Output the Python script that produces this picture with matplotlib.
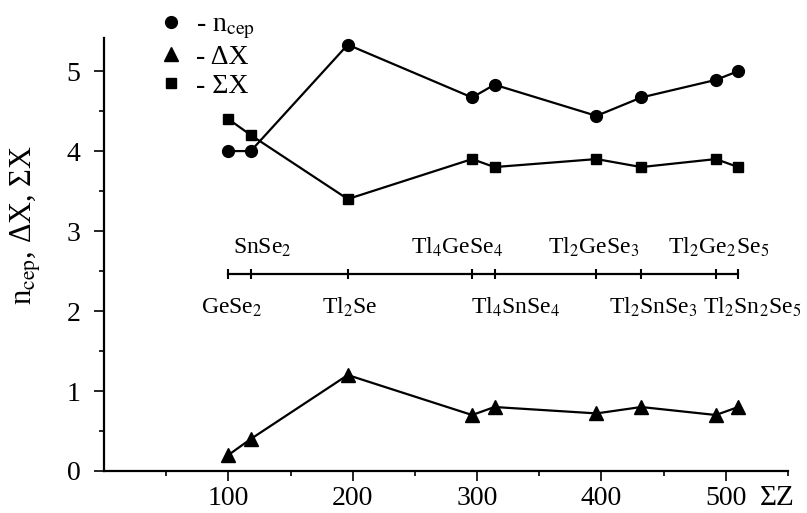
import matplotlib.pyplot as plt
from matplotlib.lines import Line2D
from matplotlib.ticker import FixedLocator
import matplotlib.transforms as mtransforms

plt.rcParams['font.family'] = ['Liberation Serif', 'DejaVu Serif']
plt.rcParams['mathtext.fontset'] = 'stix'

# sum of atomic numbers for each compound
sum_z = [100, 118, 196, 296, 314, 396, 432, 492, 510]
n_cep = [4.0, 4.0, 5.33, 4.67, 4.83, 4.44, 4.67, 4.89, 5.0]
delta_x = [0.2, 0.4, 1.2, 0.7, 0.8, 0.72, 0.8, 0.7, 0.8]
sigma_x = [4.4, 4.2, 3.4, 3.9, 3.8, 3.9, 3.8, 3.9, 3.8]

compounds = ['GeSe$_2$', 'SnSe$_2$', 'Tl$_2$Se', 'Tl$_4$GeSe$_4$', 'Tl$_4$SnSe$_4$',
             'Tl$_2$GeSe$_3$', 'Tl$_2$SnSe$_3$', 'Tl$_2$Ge$_2$Se$_5$', 'Tl$_2$Sn$_2$Se$_5$']
label_row = ['bottom', 'top', 'bottom', 'top', 'bottom', 'top', 'bottom', 'top', 'bottom']
label_x = [103, 127, 198, 284, 331, 394, 442, 494, 521]
scale_y = 2.46


def plot():
    fig = plt.figure(figsize=(8.07, 5.13), dpi=100)
    ax = fig.add_axes([104 / 807, 42 / 513, 684 / 807, 432.7 / 513])

    ax.plot(sum_z, n_cep, color='k', lw=1.6, marker='o', ms=8.5)
    ax.plot(sum_z, sigma_x, color='k', lw=1.6, marker='s', ms=7.5)
    ax.plot(sum_z, delta_x, color='k', lw=1.6, marker='^', ms=10.5)

    # inner compound scale
    ax.plot(sum_z, [scale_y] * len(sum_z), color='k', lw=1.6,
            marker='|', ms=7, mew=1.5)
    for name, row, x in zip(compounds, label_row, label_x):
        if row == 'top':
            ax.text(x, 2.72, name, ha='center', va='baseline', fontsize=17)
        else:
            ax.text(x, 1.97, name, ha='center', va='baseline', fontsize=17)

    ax.set_xlim(0, 550)
    ax.set_ylim(0, 5.41)
    ax.xaxis.set_major_locator(FixedLocator([100, 200, 300, 400, 500]))
    ax.xaxis.set_minor_locator(FixedLocator([50, 150, 250, 350, 450, 550]))
    ax.yaxis.set_major_locator(FixedLocator([0, 1, 2, 3, 4, 5]))
    ax.yaxis.set_minor_locator(FixedLocator([0.5, 1.5, 2.5, 3.5, 4.5]))
    ax.tick_params(which='major', length=7, width=1.2, labelsize=20, pad=4)
    ax.tick_params(which='minor', length=3.5, width=1.2)
    ax.tick_params(axis='y', which='major', pad=10)

    for side in ['top', 'right']:
        ax.spines[side].set_visible(False)
    for side in ['left', 'bottom']:
        ax.spines[side].set_linewidth(1.6)

    ax.set_ylabel('n$_{\\mathrm{cep}}$, ΔX, ΣX', fontsize=22)
    ax.yaxis.set_label_coords(-0.089, 0.568)

    trans = mtransforms.blended_transform_factory(ax.transData, ax.transAxes)
    ax.text(527, -0.062, 'ΣZ', transform=trans, ha='left', va='center',
            fontsize=21, clip_on=False)

    handles = [Line2D([], [], color='k', ls='none', marker='o', ms=8.5),
               Line2D([], [], color='k', ls='none', marker='^', ms=10),
               Line2D([], [], color='k', ls='none', marker='s', ms=7.5)]
    labels = ['- n$_{\\mathrm{cep}}$', '- ΔX', '- ΣX']
    fig.legend(handles, labels, loc='upper left', bbox_to_anchor=(160 / 807, 1 - 12 / 513),
               frameon=False, fontsize=20, handlelength=0.8, handletextpad=0.5,
               borderpad=0, borderaxespad=0, labelspacing=0.12)

    fig.savefig('out.png', dpi=100)


if __name__ == "__main__":
    plot()
